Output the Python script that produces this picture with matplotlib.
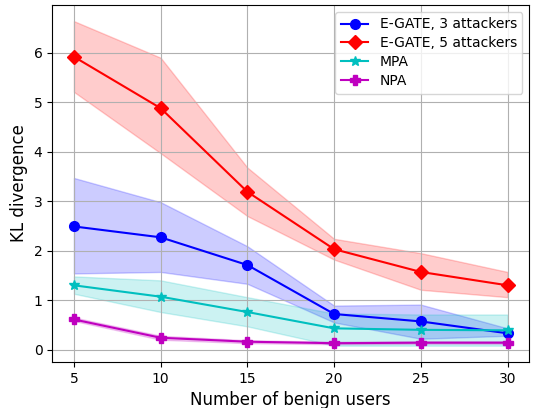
import matplotlib
matplotlib.use("Agg")
from matplotlib import pyplot as plt
import numpy as np

users = [5, 10, 15, 20, 25, 30]

# E-GATE, 3 attackers
egate3 = [2.49, 2.27, 1.71, 0.72, 0.57, 0.33]
egate3_lo = [1.54, 1.57, 1.33, 0.55, 0.22, 0.28]
egate3_hi = [3.47, 2.98, 2.09, 0.89, 0.91, 0.43]

# E-GATE, 5 attackers
egate5 = [5.92, 4.88, 3.19, 2.03, 1.57, 1.30]
egate5_lo = [5.21, 3.97, 2.70, 1.82, 1.21, 1.06]
egate5_hi = [6.64, 5.90, 3.68, 2.24, 1.95, 1.57]

# MPA
mpa = [1.30, 1.07, 0.76, 0.43, 0.40, 0.39]
mpa_lo = [1.13, 0.76, 0.47, 0.08, 0.08, 0.08]
mpa_hi = [1.48, 1.40, 1.06, 0.73, 0.71, 0.71]

# NPA
npa = [0.61, 0.24, 0.16, 0.13, 0.14, 0.14]
npa_lo = [0.58, 0.20, 0.13, 0.11, 0.12, 0.12]
npa_hi = [0.65, 0.28, 0.19, 0.16, 0.17, 0.17]

series = [
    (egate3, egate3_lo, egate3_hi, 'b', 'o', 'E-GATE, 3 attackers'),
    (egate5, egate5_lo, egate5_hi, 'r', 'D', 'E-GATE, 5 attackers'),
    (mpa, mpa_lo, mpa_hi, 'c', '*', 'MPA'),
    (npa, npa_lo, npa_hi, 'm', 'P', 'NPA'),
]

fig = plt.figure(figsize=(5.33, 4.08), dpi=100)
ax = fig.add_axes([0.098, 0.113, 0.895, 0.875])

for vals, lo, hi, col, mk, name in series:
    ax.plot(users, vals, color=col, marker=mk, markersize=7, linewidth=1.5, label=name)
    ax.fill_between(users, lo, hi, color=col, alpha=0.2)

ax.set_xlabel('Number of benign users', fontsize=12)
ax.set_ylabel('KL divergence', fontsize=12)
ax.set_xticks(users)
ax.grid(True)
ax.legend(loc='upper right', fontsize=10, labelspacing=0.35)

plt.savefig('out.png', dpi=100)
